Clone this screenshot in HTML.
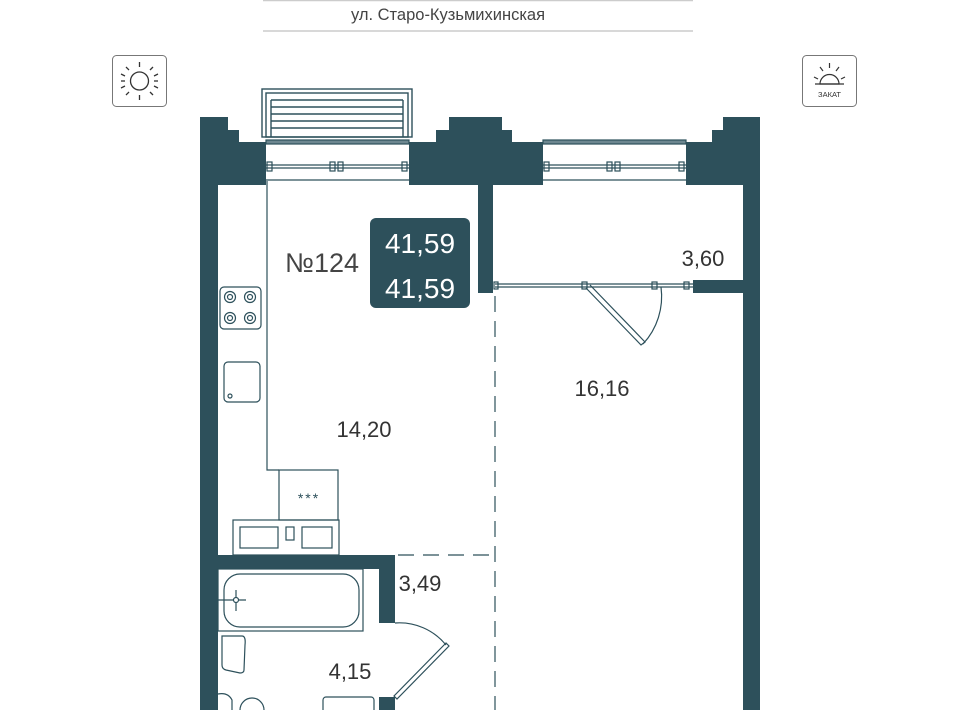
<!DOCTYPE html>
<html><head><meta charset="utf-8"><style>
html,body{margin:0;padding:0;background:#fff;width:960px;height:710px;overflow:hidden}
svg{display:block}
text{font-family:"Liberation Sans","DejaVu Sans",sans-serif}
</style></head><body>
<svg width="960" height="710" viewBox="0 0 960 710" xmlns="http://www.w3.org/2000/svg">
<!-- header -->
<line x1="263" y1="0.5" x2="693" y2="0.5" stroke="#ccc" stroke-width="1.5"/>
<line x1="263" y1="31" x2="693" y2="31" stroke="#ccc" stroke-width="1.5"/>
<text x="448" y="20" font-size="16.5" fill="#444" text-anchor="middle">ул. Старо-Кузьмихинская</text>

<!-- sun icons -->
<rect x="112.5" y="55.5" width="54" height="51" rx="4" fill="#fff" stroke="#777" stroke-width="1"/>
<g stroke="#333" stroke-width="1.3" fill="none">
<circle cx="139.5" cy="81" r="9"/>
<line x1="139.5" y1="62" x2="139.5" y2="67"/><line x1="139.5" y1="95" x2="139.5" y2="100"/>
<line x1="121" y1="81" x2="125" y2="81"/><line x1="154" y1="81" x2="158" y2="81"/>
<line x1="126" y1="67" x2="129" y2="70"/><line x1="153" y1="67" x2="150" y2="70"/>
<line x1="126" y1="95" x2="129" y2="92"/><line x1="153" y1="95" x2="150" y2="92"/>
<line x1="121" y1="74" x2="125" y2="76"/><line x1="158" y1="74" x2="154" y2="76"/>
<line x1="121" y1="88" x2="125" y2="86"/><line x1="158" y1="88" x2="154" y2="86"/>
</g>
<rect x="802.5" y="55.5" width="54" height="51" rx="4" fill="#fff" stroke="#777" stroke-width="1"/>
<g stroke="#333" stroke-width="1.2" fill="none">
<path d="M820 84 A9.5 9.5 0 0 1 839 84 Z"/>
<line x1="829.5" y1="63" x2="829.5" y2="68"/>
<line x1="820" y1="67" x2="823" y2="71"/><line x1="839" y1="67" x2="836" y2="71"/>
<line x1="814" y1="77" x2="818" y2="79"/><line x1="845" y1="77" x2="841" y2="79"/>
<line x1="815" y1="84" x2="844" y2="84"/>
</g>
<text x="829.5" y="97" font-size="7.5" fill="#333" text-anchor="middle">ЗАКАТ</text>

<!-- walls -->
<g fill="#2d505b">
<path d="M200 117 H228 V130 H239 V142 H266 V185 H218 V710 H200 Z"/>
<path d="M409 142 H436 V130 H449 V117 H502 V130 H512 V142 H543 V185 H493 V293 H478 V185 H409 Z"/>
<path d="M686 142 H712 V130 H723 V117 H760 V710 H743 V293 H693 V280 H743 V185 H686 Z"/>
<rect x="200" y="555" width="195" height="14"/>
<rect x="379" y="555" width="16" height="68"/>
<rect x="379" y="697" width="16" height="13"/>
</g>

<!-- balcony -->
<g fill="none" stroke="#2d505b" stroke-width="1.4">
<rect x="262" y="89" width="150" height="48"/>
<rect x="266" y="93" width="142" height="44"/>
<line x1="271" y1="100" x2="403" y2="100"/>
<line x1="271" y1="107" x2="403" y2="107"/>
<line x1="271" y1="114" x2="403" y2="114"/>
<line x1="271" y1="121" x2="403" y2="121"/>
<line x1="271" y1="128" x2="403" y2="128"/>
<line x1="271" y1="100" x2="271" y2="137"/><line x1="403" y1="100" x2="403" y2="137"/>
</g>
<!-- windows -->
<g fill="none" stroke="#2d505b" stroke-width="1.2">
<rect x="266" y="140" width="143" height="4" fill="#6d8790"/>
<line x1="266" y1="165" x2="409" y2="165"/><line x1="266" y1="168" x2="409" y2="168"/>
<line x1="261" y1="180" x2="414" y2="180"/>
<rect x="267" y="162" width="5" height="9"/><rect x="330" y="162" width="5" height="9"/><rect x="338" y="162" width="5" height="9"/><rect x="402" y="162" width="5" height="9"/>
<rect x="543" y="140" width="143" height="4" fill="#6d8790"/>
<line x1="543" y1="165" x2="686" y2="165"/><line x1="543" y1="168" x2="686" y2="168"/>
<line x1="538" y1="180" x2="691" y2="180"/>
<rect x="544" y="162" width="5" height="9"/><rect x="607" y="162" width="5" height="9"/><rect x="615" y="162" width="5" height="9"/><rect x="679" y="162" width="5" height="9"/>
</g>

<!-- door to loggia room -->
<g fill="none" stroke="#2d505b" stroke-width="1.2">
<line x1="495" y1="284" x2="693" y2="284"/><line x1="495" y1="287" x2="693" y2="287"/>
<rect x="494" y="282" width="4" height="7"/><rect x="582" y="282" width="5" height="7"/><rect x="652" y="282" width="5" height="7"/><rect x="684" y="282" width="5" height="7"/>
<path d="M586 288 L641 345 L645 342 L590 285"/>
<path d="M643 344 A70 70 0 0 0 661 287"/>
</g>

<!-- dashed lines -->
<g stroke="#2d505b" stroke-width="1.2" stroke-dasharray="16,9" fill="none">
<line x1="495" y1="296" x2="495" y2="710"/>
<line x1="398" y1="555" x2="493" y2="555"/>
</g>

<!-- kitchen -->
<g fill="none" stroke="#2d505b" stroke-width="1.2">
<polyline points="267,181 267,470 279,470"/>
<rect x="279" y="470" width="59" height="50"/>
<rect x="233" y="520" width="106" height="35"/>
<rect x="240" y="527" width="38" height="21"/>
<rect x="286" y="527" width="8" height="13"/>
<rect x="302" y="527" width="30" height="21"/>
<rect x="220" y="287" width="41" height="42" rx="4"/>
<circle cx="230" cy="297" r="5.5"/><circle cx="230" cy="297" r="2.5"/>
<circle cx="250" cy="297" r="5.5"/><circle cx="250" cy="297" r="2.5"/>
<circle cx="230" cy="318" r="5.5"/><circle cx="230" cy="318" r="2.5"/>
<circle cx="250" cy="318" r="5.5"/><circle cx="250" cy="318" r="2.5"/>
<rect x="224" y="362" width="36" height="40" rx="4"/>
<circle cx="230" cy="396" r="2"/>
</g>
<text x="309" y="503" font-size="14" fill="#2d505b" text-anchor="middle" letter-spacing="2">***</text>

<!-- bathroom -->
<g fill="none" stroke="#2d505b" stroke-width="1.2">
<rect x="218" y="569" width="145" height="62"/>
<rect x="224" y="574" width="135" height="53" rx="16"/>
<line x1="218" y1="600" x2="246" y2="600"/><line x1="236" y1="590" x2="236" y2="611"/>
<circle cx="236" cy="600" r="2.5" fill="#fff"/>
<path d="M222 636 H242 Q246 636 245 645 L244 670 Q244 673 240 673 L226 670 Q222 669 222 665 Z"/>
<path d="M218 694 Q228 692 232 700 L232 710"/>
<circle cx="252" cy="710" r="12"/>
<rect x="323" y="697" width="51" height="20" rx="3"/>
<path d="M395 623 A60 60 0 0 1 446 645"/>
<path d="M446 643 L394 696 L397 699 L449 646 Z"/>
</g>

<!-- labels -->
<text x="322" y="272" font-size="27" fill="#444" text-anchor="middle">№124</text>
<rect x="370" y="218" width="100" height="90" rx="6" fill="#2d505b"/>
<text x="420" y="253" font-size="28" fill="#fff" text-anchor="middle">41,59</text>
<text x="420" y="298" font-size="28" fill="#fff" text-anchor="middle">41,59</text>
<text x="364" y="437" font-size="22" fill="#333" text-anchor="middle">14,20</text>
<text x="602" y="396" font-size="22" fill="#333" text-anchor="middle">16,16</text>
<text x="703" y="266" font-size="22" fill="#333" text-anchor="middle">3,60</text>
<text x="420" y="591" font-size="22" fill="#333" text-anchor="middle">3,49</text>
<text x="350" y="679" font-size="22" fill="#333" text-anchor="middle">4,15</text>
</svg>
</body></html>
